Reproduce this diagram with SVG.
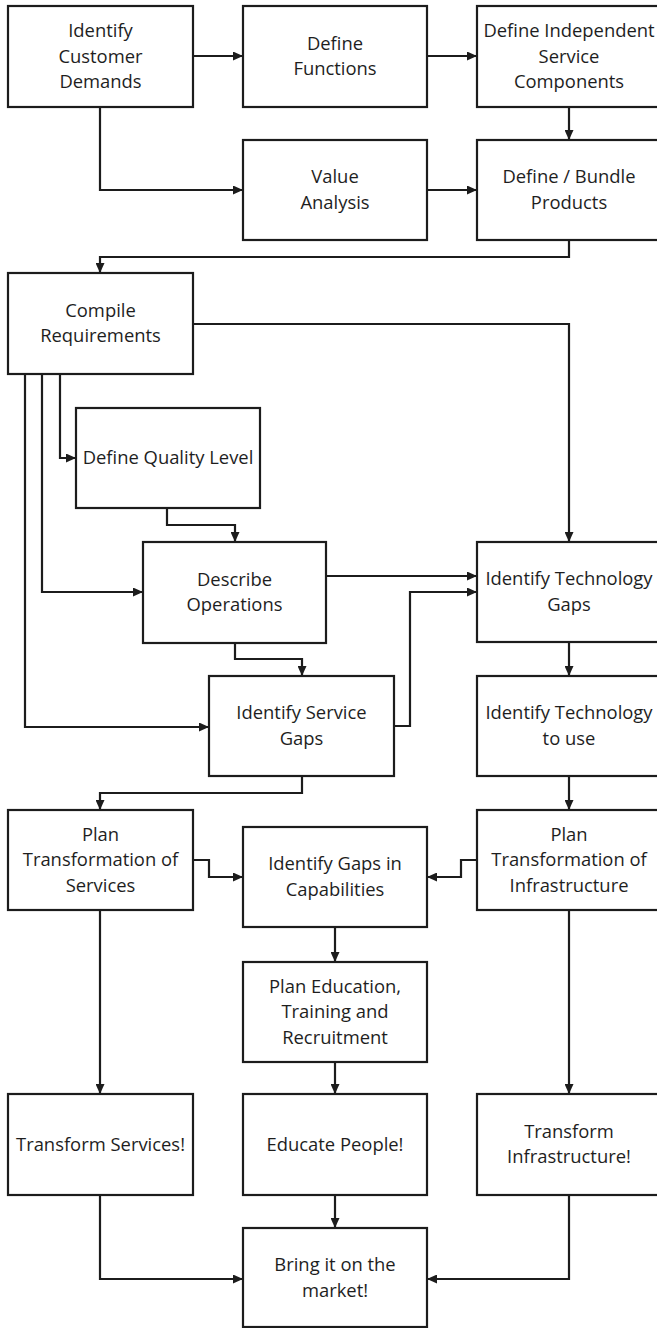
<svg xmlns="http://www.w3.org/2000/svg" width="657" height="1328" viewBox="0 0 657 1328">
  <style>
    .box { fill: #ffffff; stroke: #1c1c1c; stroke-width: 2.2; }
    .lbl { font-family: "Open Sans", "Noto Sans", "Liberation Sans", sans-serif; font-size: 18.4px; fill: #1e1e1e; text-anchor: middle; }
    .wire { fill: none; stroke: #1c1c1c; stroke-width: 2.2; marker-end: url(#arrow); }
  </style>
  <defs>
    <marker id="arrow" markerUnits="userSpaceOnUse" markerWidth="10" markerHeight="9" viewBox="0 0 10 9" refX="10" refY="4.5" orient="auto">
      <path d="M0,0 L10,4.5 L0,9 z" fill="#1c1c1c"/>
    </marker>
  </defs>
  <rect width="657" height="1328" fill="#ffffff"/>

  <!-- connectors -->
  <g id="connectors">
    <path class="wire" d="M193,56 H243"/>
    <path class="wire" d="M100,107 V190 H243"/>
    <path class="wire" d="M427,56 H477"/>
    <path class="wire" d="M569,107 V140"/>
    <path class="wire" d="M427,190 H477"/>
    <path class="wire" d="M569,240 V257 H100 V273"/>
    <path class="wire" d="M193,324 H569 V542"/>
    <path class="wire" d="M60,374 V458 H76"/>
    <path class="wire" d="M42,374 V592 H143"/>
    <path class="wire" d="M25,374 V727 H209"/>
    <path class="wire" d="M167,508 V525 H235 V542"/>
    <path class="wire" d="M326,576 H477"/>
    <path class="wire" d="M235,643 V659 H302 V676"/>
    <path class="wire" d="M394,726 H410 V592 H477"/>
    <path class="wire" d="M569,642 V676"/>
    <path class="wire" d="M569,776 V810"/>
    <path class="wire" d="M302,776 V793 H100 V810"/>
    <path class="wire" d="M193,860 H209 V877 H243"/>
    <path class="wire" d="M477,860 H461 V877 H427"/>
    <path class="wire" d="M335,927 V962"/>
    <path class="wire" d="M100,910 V1094"/>
    <path class="wire" d="M569,910 V1094"/>
    <path class="wire" d="M335,1062 V1094"/>
    <path class="wire" d="M335,1195 V1228"/>
    <path class="wire" d="M100,1195 V1279 H243"/>
    <path class="wire" d="M569,1195 V1279 H427"/>
  </g>

  <g id="identify-customer-demands">
    <rect class="box" x="8" y="6" width="185" height="101"/>
    <text class="lbl" x="100.5" y="37">Identify</text>
    <text class="lbl" x="100.5" y="62.5">Customer</text>
    <text class="lbl" x="100.5" y="88">Demands</text>
  </g>
  <g id="define-functions">
    <rect class="box" x="243" y="6" width="184" height="101"/>
    <text class="lbl" x="335" y="49.5">Define</text>
    <text class="lbl" x="335" y="75">Functions</text>
  </g>
  <g id="define-independent-service-components">
    <rect class="box" x="477" y="6" width="184" height="101"/>
    <text class="lbl" x="569" y="37">Define Independent</text>
    <text class="lbl" x="569" y="62.5">Service</text>
    <text class="lbl" x="569" y="88">Components</text>
  </g>
  <g id="value-analysis">
    <rect class="box" x="243" y="140" width="184" height="100"/>
    <text class="lbl" x="335" y="183">Value</text>
    <text class="lbl" x="335" y="208.5">Analysis</text>
  </g>
  <g id="define-bundle-products">
    <rect class="box" x="477" y="140" width="184" height="100"/>
    <text class="lbl" x="569" y="183">Define / Bundle</text>
    <text class="lbl" x="569" y="208.5">Products</text>
  </g>
  <g id="compile-requirements">
    <rect class="box" x="8" y="273" width="185" height="101"/>
    <text class="lbl" x="100.5" y="316.5">Compile</text>
    <text class="lbl" x="100.5" y="342">Requirements</text>
  </g>
  <g id="define-quality-level">
    <rect class="box" x="76" y="408" width="184" height="100"/>
    <text class="lbl" x="168" y="464">Define Quality Level</text>
  </g>
  <g id="describe-operations">
    <rect class="box" x="143" y="542" width="183" height="101"/>
    <text class="lbl" x="234.5" y="585.5">Describe</text>
    <text class="lbl" x="234.5" y="611">Operations</text>
  </g>
  <g id="identify-service-gaps">
    <rect class="box" x="209" y="676" width="185" height="100"/>
    <text class="lbl" x="301.5" y="719">Identify Service</text>
    <text class="lbl" x="301.5" y="744.5">Gaps</text>
  </g>
  <g id="identify-technology-gaps">
    <rect class="box" x="477" y="542" width="184" height="100"/>
    <text class="lbl" x="569" y="585">Identify Technology</text>
    <text class="lbl" x="569" y="610.5">Gaps</text>
  </g>
  <g id="identify-technology-to-use">
    <rect class="box" x="477" y="676" width="184" height="100"/>
    <text class="lbl" x="569" y="719">Identify Technology</text>
    <text class="lbl" x="569" y="744.5">to use</text>
  </g>
  <g id="plan-transformation-of-services">
    <rect class="box" x="8" y="810" width="185" height="100"/>
    <text class="lbl" x="100.5" y="840.5">Plan</text>
    <text class="lbl" x="100.5" y="866">Transformation of</text>
    <text class="lbl" x="100.5" y="891.5">Services</text>
  </g>
  <g id="identify-gaps-in-capabilities">
    <rect class="box" x="243" y="827" width="184" height="100"/>
    <text class="lbl" x="335" y="870">Identify Gaps in</text>
    <text class="lbl" x="335" y="895.5">Capabilities</text>
  </g>
  <g id="plan-transformation-of-infrastructure">
    <rect class="box" x="477" y="810" width="184" height="100"/>
    <text class="lbl" x="569" y="840.5">Plan</text>
    <text class="lbl" x="569" y="866">Transformation of</text>
    <text class="lbl" x="569" y="891.5">Infrastructure</text>
  </g>
  <g id="plan-education-training-recruitment">
    <rect class="box" x="243" y="962" width="184" height="100"/>
    <text class="lbl" x="335" y="992.5">Plan Education,</text>
    <text class="lbl" x="335" y="1018">Training and</text>
    <text class="lbl" x="335" y="1043.5">Recruitment</text>
  </g>
  <g id="transform-services">
    <rect class="box" x="8" y="1094" width="185" height="101"/>
    <text class="lbl" x="100.5" y="1150.5">Transform Services!</text>
  </g>
  <g id="educate-people">
    <rect class="box" x="243" y="1094" width="184" height="101"/>
    <text class="lbl" x="335" y="1150.5">Educate People!</text>
  </g>
  <g id="transform-infrastructure">
    <rect class="box" x="477" y="1094" width="184" height="101"/>
    <text class="lbl" x="569" y="1137.5">Transform</text>
    <text class="lbl" x="569" y="1163">Infrastructure!</text>
  </g>
  <g id="bring-it-on-the-market">
    <rect class="box" x="243" y="1228" width="184" height="99"/>
    <text class="lbl" x="335" y="1271">Bring it on the</text>
    <text class="lbl" x="335" y="1296.5">market!</text>
  </g>
</svg>
